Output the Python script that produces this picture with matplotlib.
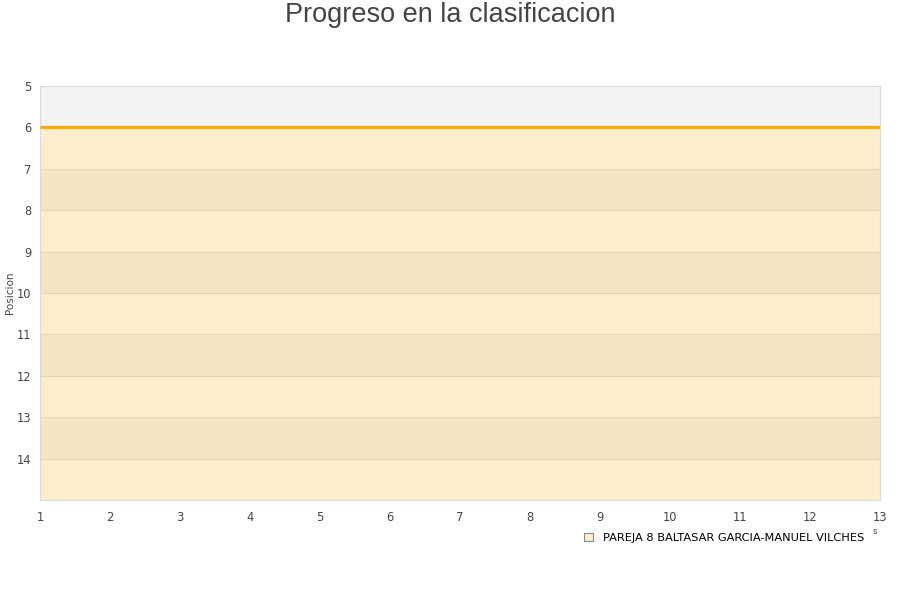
import matplotlib
matplotlib.use('Agg')
import matplotlib.pyplot as plt
from matplotlib.patches import Patch

# Data
jornadas = [1, 2, 3, 4, 5, 6, 7, 8, 9, 10, 11, 12, 13]
posicion = [6, 6, 6, 6, 6, 6, 6, 6, 6, 6, 6, 6, 6]
pareja = 'PAREJA 8 BALTASAR GARCIA-MANUEL VILCHES'
y_ticks = [5, 6, 7, 8, 9, 10, 11, 12, 13, 14]

LINE = '#ffaa00'
TXT = '#444444'

fig = plt.figure(figsize=(9, 6), dpi=100)
ax = fig.add_axes([40 / 900, 1 - 500 / 600, 840 / 900, 414 / 600])

ax.set_xlim(1, 13)
ax.set_ylim(15, 5)

# alternating background bands
for y0 in range(5, 15, 2):
    ax.axhspan(y0, y0 + 1, color='#f3f3f3', lw=0, zorder=0)

# grid lines
for y in range(6, 15):
    ax.axhline(y, color='#e2e2e2', lw=0.8, zorder=1)

# area + line
ax.fill_between(jornadas, posicion, 15, color=LINE, alpha=0.2, lw=0, zorder=2)
ax.plot(jornadas, posicion, color=LINE, lw=2.3, zorder=3, solid_capstyle='butt')

ax.set_yticks(y_ticks)
ax.set_xticks(jornadas)
ax.tick_params(length=0, labelsize=8.3, colors=TXT)
ax.tick_params(axis='y', pad=6)
ax.tick_params(axis='x', pad=8)
for s in ax.spines.values():
    s.set_color('#d9d9d9')
    s.set_linewidth(0.8)

ax.set_ylabel('Posicion', fontsize=7.5, color=TXT)
ax.yaxis.set_label_coords(-25 / 840, 0.5)

fig.text(0.5, 1 - 15 / 600, 'Progreso en la clasificacion', ha='center', va='center',
         fontsize=19.5, color=TXT, family='Liberation Sans')

# x axis title, only its tail shows past the legend
fig.text(875 / 900, 1 - 532 / 600, 's', ha='center', va='center', fontsize=6.5, color=TXT)

handle = Patch(facecolor='#ffeecc', edgecolor='#888888', lw=0.8)
leg = fig.legend([handle], [pareja], loc='center', bbox_to_anchor=(724 / 900, 1 - 538 / 600),
                 frameon=False, fontsize=8.2, handlelength=0.75, handleheight=0.75,
                 handletextpad=0.9, borderpad=0.3)

plt.savefig('out.png', dpi=100)
